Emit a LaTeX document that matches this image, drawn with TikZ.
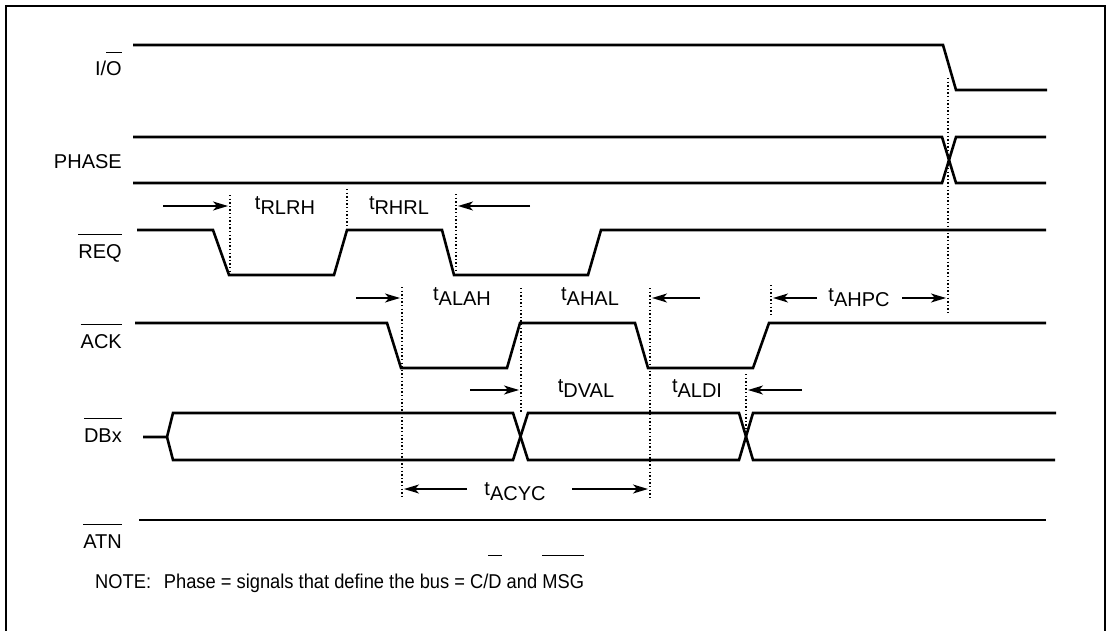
\documentclass[tikz,border=0pt]{standalone}
\usepackage{fontspec}
\setmainfont{Liberation Sans}
\usetikzlibrary{arrows.meta}
\newcommand\ovl[2][1.15em]{\setbox0\hbox{#2}\rlap{\rule[#1]{\wd0}{1.3pt}}\box0\relax}
\newcommand\tlab[1]{t\raisebox{-5pt}{#1}}
\tikzset{
  wave/.style={line width=2.6pt, line join=miter},
  guide/.style={line width=1.4pt, dash pattern=on 1.4pt off 2.2pt},
  dim/.style={line width=1.3pt, -{Stealth[length=15pt,width=9pt,inset=4pt]}},
  sig/.style={anchor=base east, font=\fontsize{20}{24}\selectfont, inner sep=0pt},
  tl/.style={anchor=base, font=\fontsize{20}{24}\selectfont, inner sep=0pt},
  frame/.style={line width=2pt}
}
\begin{document}
\begin{tikzpicture}[x=1pt,y=-1pt]
\path[fill=white,use as bounding box] (0,0) rectangle (1107,631);
% frame
\draw[frame] (6,631) -- (6,6) -- (1105,6) -- (1105,631);
% signal labels
\node[sig] (lio)  at (122,76)  {I/\ovl{O}};
\node[sig] (lph)  at (122,168) {PHASE};
\node[sig] (lreq) at (122,258) {\ovl{REQ}};
\node[sig] (lack) at (122,348) {\ovl{ACK}};
\node[sig] (ldb)  at (122,442) {\ovl{DBx}};
\node[sig] (latn) at (122,548) {\ovl{ATN}};
% waveforms
\draw[wave] (133,45) -- (943,45) -- (956,90) -- (1047,90);
\draw[wave] (133,137) -- (942,137) -- (956,183) -- (1046,183);
\draw[wave] (133,183) -- (942,183) -- (956,137) -- (1046,137);
\draw[wave] (137,230) -- (213,230) -- (229,275) -- (334,275) -- (347,230) -- (442,230) -- (454,275) -- (588,275) -- (601,230) -- (1046,230);
\draw[wave] (135,323) -- (387,323) -- (401,368) -- (507,368) -- (520,323) -- (635,323) -- (648,368) -- (753,368) -- (769,323) -- (1046,323);
\draw[wave] (143,437) -- (167,437) -- (173,413) -- (513,413) -- (528,460) -- (739,460) -- (753,413) -- (1056,413);
\draw[wave] (167,437) -- (173,460) -- (513,460) -- (528,413) -- (739,413) -- (753,460) -- (1055,460);
\draw[wave] (139,520) -- (1046,520);
% guide lines
\draw[guide] (948,78) -- (948,313);
\draw[guide] (230,195) -- (230,272);
\draw[guide] (347,189) -- (347,228);
\draw[guide] (456,194) -- (456,270);
\draw[guide] (402,287) -- (402,498);
\draw[guide] (521,288) -- (521,413);
\draw[guide] (650,288) -- (650,498);
\draw[guide] (746,374) -- (746,432);
\draw[guide] (771,285) -- (771,315);
% dimension arrows
\coordinate (a1s) at (163,206); \coordinate (a1e) at (228,206);
\coordinate (a2s) at (530,206); \coordinate (a2e) at (458,206);
\coordinate (a3s) at (356,298); \coordinate (a3e) at (400,298);
\coordinate (a4s) at (700,298); \coordinate (a4e) at (652,298);
\coordinate (a5s) at (817,298); \coordinate (a5e) at (773,298);
\coordinate (a6s) at (902,298); \coordinate (a6e) at (946,298);
\coordinate (a7s) at (470,390); \coordinate (a7e) at (519,390);
\coordinate (a8s) at (802,390); \coordinate (a8e) at (748,390);
\coordinate (a9s) at (467,489); \coordinate (a9e) at (404,489);
\coordinate (a10s) at (572,489); \coordinate (a10e) at (648,489);
\foreach \n in {1,...,10} \draw[dim] (a\n s) -- (a\n e);
% timing labels
\node[tl] (trlrh) at (285,209) {\tlab{RLRH}};
\node[tl] (trhrl) at (399,209) {\tlab{RHRL}};
\node[tl] (talah) at (462,300) {\tlab{ALAH}};
\node[tl] (tahal) at (590,300) {\tlab{AHAL}};
\node[tl] (tahpc) at (859,301) {\tlab{AHPC}};
\node[tl] (tdval) at (586,392) {\tlab{DVAL}};
\node[tl] (taldi) at (697,392) {\tlab{ALDI}};
\node[tl] (tacyc) at (515,495) {\tlab{ACYC}};
% note
\node[anchor=base west, inner sep=0pt, font=\fontsize{20}{24}\selectfont] (note) at (95,588)
  {\scalebox{0.915}[1]{NOTE:\hspace{14pt}Phase = signals that define the bus = C/\ovl[1.6em]{D} and \ovl[1.6em]{MSG}}};
\end{tikzpicture}
\end{document}
